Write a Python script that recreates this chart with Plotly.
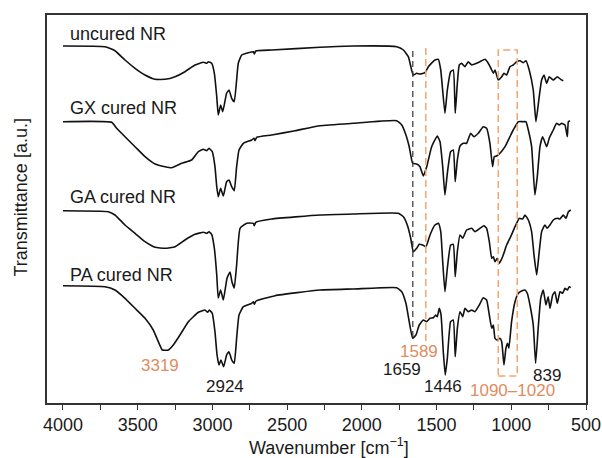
import plotly.graph_objects as go

# ---------------- data (wavenumber in cm^-1, transmittance in a.u., offset-stacked) ----------------
wn_uncured = [4000, 3719, 3652, 3585, 3518, 3451, 3384, 3317, 3250, 3184, 3117, 3061, 3038, 3027, 3005,
              2987, 2971, 2961, 2945, 2931, 2905, 2889, 2871, 2854, 2838, 2827, 2804, 2760, 2726, 2720,
              2710, 2603, 2280, 2057, 1767, 1722, 1689, 1667, 1656, 1633, 1611, 1577, 1555, 1511, 1488,
              1472, 1444, 1428, 1406, 1388, 1375, 1361, 1348, 1332, 1310, 1288, 1265, 1232, 1210, 1176,
              1154, 1131, 1120, 1109, 1087, 1064, 1049, 1031, 1009, 987, 964, 942, 920, 902, 880,
              853, 835, 813, 797, 781, 763, 746, 719, 692, 670, 652]
t_uncured = [357, 356.3, 352.3, 343, 334.7, 328, 323.7, 323.7, 326.3, 331.3, 338, 340.7, 339.7, 341.3, 339.7,
             329.7, 306.3, 288, 298, 291.3, 309.7, 313, 304.7, 301.3, 323, 339.7, 348, 350.3, 351.3, 349,
             352, 353, 355.7, 357, 356.3, 353, 346.3, 333, 328, 329.7, 329, 330.3, 336.3, 343, 343.7,
             333, 289.7, 313, 331.3, 333, 289.7, 319.7, 338, 339.7, 336.3, 341.3, 338, 339.7, 341.3, 343.7,
             339.7, 333, 329.7, 333, 323, 326.3, 329.7, 328, 336.3, 338, 341.3, 342.3, 340.3, 342.3, 333,
             313, 281.3, 306.3, 323, 328, 319.7, 326.3, 323, 326.3, 323.7, 322.3]

wn_gx = [4000, 3674, 3641, 3585, 3518, 3451, 3384, 3317, 3273, 3206, 3139, 3094, 3061, 3038, 3023,
         3001, 2983, 2971, 2961, 2945, 2927, 2905, 2889, 2871, 2854, 2838, 2822, 2793, 2737, 2722,
         2715, 2704, 2603, 2447, 2280, 2057, 1767, 1733, 1705, 1683, 1660, 1633, 1611, 1589, 1566,
         1533, 1495, 1477, 1459, 1444, 1428, 1406, 1388, 1375, 1361, 1343, 1321, 1299, 1272, 1250,
         1221, 1188, 1165, 1143, 1125, 1114, 1098, 1076, 1042, 1009, 987, 953, 920, 902, 886,
         864, 842, 826, 808, 790, 763, 746, 719, 697, 679, 663, 641, 625, 618, 607]
t_gx = [281.3, 280.7, 274.7, 266.3, 256.3, 246.3, 239, 236.3, 235.3, 239.7, 243, 251.3, 253.7, 252.3, 254.7,
        251.3, 236.3, 216.3, 206.3, 214.7, 207, 221.3, 223, 216.3, 212.3, 236.3, 253, 259.7, 263, 264.7,
        262.3, 265.7, 268, 272.3, 277.3, 279.7, 282.3, 278, 268, 256.3, 239.7, 239, 236.3, 227, 236.3,
        256.3, 267, 261.3, 236.3, 208, 229.7, 251.3, 253, 221.3, 243, 257, 259.7, 259.7, 269.7, 266.3,
        269.7, 276.3, 274.7, 259.7, 236.3, 246.3, 247, 249.7, 256.3, 266.3, 273, 281.3, 281.3, 281.3, 273,
        256.3, 208, 226.3, 256.3, 266.3, 256.3, 264.7, 273, 279.7, 278, 279.7, 278, 266.3, 281.3, 282.3]

wn_ga = [4000, 3697, 3652, 3585, 3518, 3451, 3384, 3317, 3250, 3184, 3117, 3061, 3038, 3023, 3005,
         2987, 2971, 2961, 2945, 2927, 2902, 2882, 2869, 2854, 2838, 2815, 2771, 2726, 2720, 2710,
         2603, 2280, 2057, 1756, 1722, 1696, 1673, 1656, 1633, 1616, 1593, 1571, 1544, 1511, 1488,
         1472, 1459, 1444, 1428, 1406, 1388, 1375, 1361, 1343, 1325, 1299, 1265, 1243, 1210, 1183,
         1165, 1147, 1131, 1120, 1109, 1094, 1080, 1058, 1031, 1004, 975, 946, 924, 908, 886,
         864, 848, 830, 813, 797, 775, 760, 741, 719, 692, 674, 652, 634, 618, 602]
t_ga = [192.3, 191.3, 188, 178, 169.7, 161.3, 155.7, 154.7, 156.3, 163, 168.7, 170.7, 169.7, 171.3, 168.7,
        154.7, 128, 105, 113, 103, 125, 131, 121, 115, 138, 174.7, 179.7, 179.7, 177.3, 180.7,
        184, 188, 189, 189.7, 186.3, 178, 164.7, 151.3, 154.7, 158.7, 158, 156.3, 168, 178, 179.7,
        171.3, 141.3, 111.3, 134.7, 158, 158.7, 126.3, 151.3, 168, 164.7, 173, 174.7, 171.3, 174.7, 177.3,
        174.7, 161.3, 144.7, 146.3, 141.3, 144.7, 139.7, 146.3, 158, 166.3, 176.3, 184.7, 184, 188, 183,
        171.3, 148, 128, 151.3, 171.3, 178, 174.7, 178, 183, 184.7, 184, 188, 184.7, 191.3, 193]

wn_pa = [4000, 3719, 3652, 3585, 3518, 3451, 3396, 3362, 3335, 3295, 3262, 3217, 3161, 3094, 3050,
         3032, 3021, 3001, 2983, 2969, 2956, 2943, 2925, 2905, 2889, 2871, 2854, 2838, 2822, 2793,
         2737, 2726, 2720, 2708, 2581, 2280, 2057, 1767, 1733, 1705, 1683, 1660, 1638, 1616, 1589,
         1566, 1544, 1522, 1506, 1495, 1482, 1470, 1455, 1442, 1428, 1406, 1388, 1375, 1361, 1343,
         1325, 1310, 1288, 1265, 1243, 1214, 1188, 1165, 1147, 1131, 1120, 1109, 1094, 1076, 1064,
         1049, 1036, 1025, 1016, 998, 975, 953, 931, 908, 893, 875, 853, 837, 820, 803,
         786, 768, 753, 741, 723, 708, 692, 674, 656, 641, 625, 612, 602]
t_pa = [117.3, 116.3, 113, 104.7, 94.7, 84.7, 73, 61.3, 53, 53, 58, 68, 81.3, 90.7, 93,
        90.7, 93, 89.7, 71.3, 48, 38, 43, 36.3, 48, 51.3, 43, 39.7, 64.7, 88, 96.3,
        99.7, 101.3, 98.7, 102, 107.3, 113, 114, 115.3, 111.3, 99.7, 81.3, 64.7, 68, 78, 83,
        81.3, 84.7, 85.3, 88, 86.3, 94.7, 88, 51.3, 28, 44.7, 81.3, 83, 46.3, 74.7, 91.3,
        86.3, 94.7, 91.3, 93, 91.3, 98, 105.3, 103, 88, 74.7, 78, 64.7, 63, 64.7, 61.3,
        38, 54.7, 59.7, 54.7, 81.3, 101.3, 109.7, 112, 113, 109.7, 98, 78, 39.7, 74.7, 104.7,
        113, 98, 106.3, 94.7, 108, 111.3, 99.7, 111.3, 109.7, 114.7, 113, 116.3, 115.3]

series_names = ["uncured NR", "GX cured NR", "GA cured NR", "PA cured NR"]
series_wn = [wn_uncured, wn_gx, wn_ga, wn_pa]
series_t = [t_uncured, t_gx, t_ga, t_pa]
name_label_t = [369, 295, 206, 128]

x_tick_vals = [4000, 3500, 3000, 2500, 2000, 1500, 1000, 500]
x_tick_text = ["4000", "3500", "3000", "2500", "2000", "1500", "1000", "500"]

# peak labels: text, wavenumber position, transmittance position, colour key
peak_texts = ["3319", "2924", "1589", "1659", "1446", "1090\u20131020", "839"]
peak_wn = [3351, 2916, 1618, 1731, 1457, 995, 761]
peak_t = [38, 17, 52, 34, 17, 13, 28]
peak_orange = [True, False, True, False, False, True, False]

marker_1659 = 1659
marker_1589 = 1572
box_wn = [1087, 960]

BLACK = "#111111"
ORANGE_TXT = "#E08C5F"
ORANGE_LINE = "#F5A46E"
FONT = "Liberation Sans, Arial, Helvetica, sans-serif"

fig = go.Figure()
for name, wn, t in zip(series_names, series_wn, series_t):
    fig.add_trace(go.Scatter(x=wn, y=t, mode="lines", name=name, showlegend=False, hoverinfo="skip",
                             line=dict(color=BLACK, width=1.6, shape="spline", smoothing=0.4)))

annotations = []
for name, ty in zip(series_names, name_label_t):
    annotations.append(dict(x=3967, y=ty, xref="x", yref="y", text=name, showarrow=False,
                            xanchor="left", yanchor="middle", font=dict(size=18, color="#1a1a1a")))
for txt, x, y, orange in zip(peak_texts, peak_wn, peak_t, peak_orange):
    annotations.append(dict(x=x, y=y, xref="x", yref="y", text=txt, showarrow=False,
                            xanchor="center", yanchor="middle",
                            font=dict(size=17, color=ORANGE_TXT if orange else "#1a1a1a")))
annotations.append(dict(x=0.523, y=-0.113, xref="paper", yref="paper", showarrow=False,
                        text="Wavenumber [cm<sup>\u22121</sup>]", xanchor="center", yanchor="middle",
                        font=dict(size=18, color="#1a1a1a")))
annotations.append(dict(x=-0.048, y=0.53, xref="paper", yref="paper", showarrow=False,
                        text="Transmittance [a.u.]", textangle=-90, xanchor="center", yanchor="middle",
                        font=dict(size=18, color="#1a1a1a")))

shapes = [
    dict(type="line", x0=marker_1659, x1=marker_1659, y0=66, y1=353, xref="x", yref="y",
         line=dict(color="#333333", width=1.2, dash="6px,4px")),
    dict(type="line", x0=marker_1589, x1=marker_1589, y0=62, y1=357, xref="x", yref="y",
         line=dict(color=ORANGE_LINE, width=1.5, dash="7px,4px")),
    dict(type="rect", x0=box_wn[0], x1=box_wn[1], y0=27, y1=353, xref="x", yref="y",
         line=dict(color=ORANGE_LINE, width=1.5, dash="7px,4px"), fillcolor="rgba(0,0,0,0)"),
]

fig.update_layout(
    width=602, height=458, autosize=False,
    margin=dict(l=47, r=16, t=15, b=55, pad=0, autoexpand=False),
    plot_bgcolor="white", paper_bgcolor="white",
    font=dict(family=FONT, size=18, color="#1a1a1a"),
    annotations=annotations, shapes=shapes,
)
fig.update_xaxes(range=[4107, 500], tickvals=x_tick_vals, ticktext=x_tick_text, automargin=False,
                 ticks="outside", ticklen=5, tickwidth=1.2, tickcolor="#333333",
                 tickfont=dict(size=18, color="#1a1a1a"),
                 showline=True, linecolor="#333333", linewidth=1.6, mirror=True,
                 showgrid=False, zeroline=False,
                 minor=dict(tick0=500, dtick=250, ticks="outside", ticklen=5, tickwidth=1.2,
                            tickcolor="#333333", showgrid=False))
fig.update_yaxes(range=[0, 388], showticklabels=False, ticks="", automargin=False,
                 showline=True, linecolor="#333333", linewidth=1.6, mirror=True,
                 showgrid=False, zeroline=False)

fig.write_html("out.html", config={"displayModeBar": False},
               post_script="document.body.style.margin='0';document.body.style.padding='0';")
